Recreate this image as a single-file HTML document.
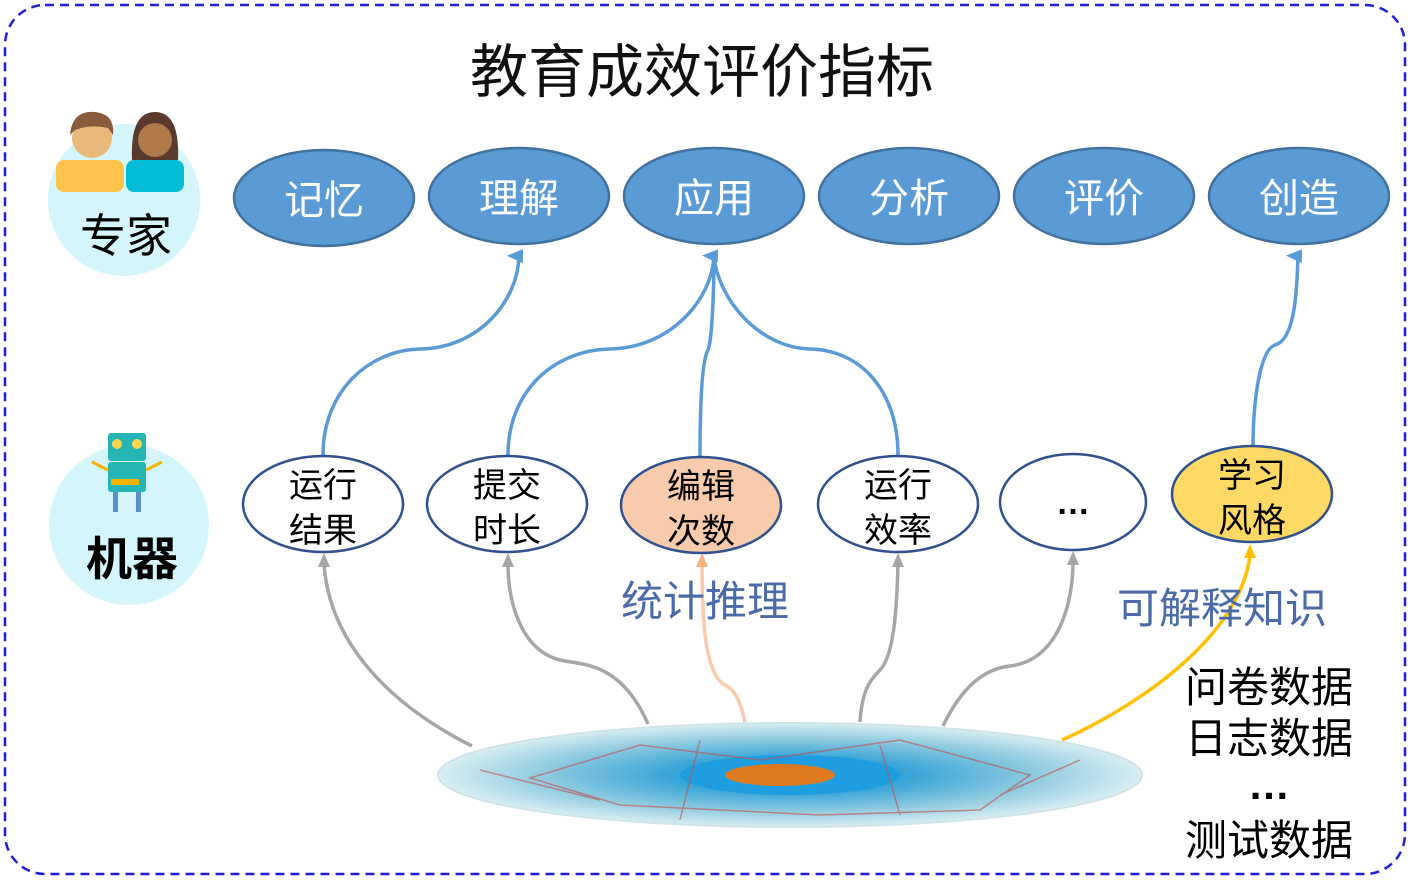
<!DOCTYPE html>
<html><head><meta charset="utf-8">
<style>
html,body{margin:0;padding:0;background:#fff;}
svg{display:block;}
text{font-family:"Liberation Sans","Noto Sans CJK SC",sans-serif;}
</style></head>
<body>
<svg width="1414" height="880" viewBox="0 0 1414 880" xmlns="http://www.w3.org/2000/svg">
<defs>
<marker id="ab" markerWidth="16" markerHeight="16" refX="8" refY="12" orient="auto-start-reverse" markerUnits="userSpaceOnUse" viewBox="0 0 16 16"><path d="M1,16 L8,0 L15,16 Z" fill="#5b9bd5"/></marker>
<marker id="ag" markerWidth="14" markerHeight="14" refX="7" refY="11" viewBox="0 0 14 14" markerUnits="userSpaceOnUse"><path d="M1,14 L7,0 L13,14 Z" fill="#a6a6a6"/></marker>
<marker id="ao" markerWidth="14" markerHeight="14" refX="7" refY="11" viewBox="0 0 14 14" markerUnits="userSpaceOnUse"><path d="M1,14 L7,0 L13,14 Z" fill="#f4b183"/></marker>
<marker id="ay" markerWidth="14" markerHeight="14" refX="7" refY="11" viewBox="0 0 14 14" markerUnits="userSpaceOnUse"><path d="M1,14 L7,0 L13,14 Z" fill="#ffc000"/></marker>
<radialGradient id="dg" cx="50%" cy="50%" r="50%">
<stop offset="0" stop-color="#1b8fd6"/><stop offset="0.35" stop-color="#3aa6d8"/><stop offset="0.7" stop-color="#8fcbe0"/><stop offset="1" stop-color="#d8eef2"/>
</radialGradient>
</defs>
<rect x="5" y="5" width="1400" height="869" rx="40" fill="none" stroke="#1f1fd6" stroke-width="2.5" stroke-dasharray="9,6"/>
<text x="702" y="92" font-size="58" text-anchor="middle" fill="#111">教育成效评价指标</text>

<!-- expert -->
<circle cx="124" cy="200" r="76" fill="#d5f5fc"/>
<rect x="56" y="160" width="68" height="32" rx="8" fill="#ffc34d"/>
<circle cx="92" cy="138" r="20" fill="#e9b97a"/>
<path d="M70,135 Q72,110 95,112 Q115,114 113,135 L108,128 Q90,124 75,130 Z" fill="#8a5a3c"/>
<rect x="126" y="160" width="58" height="32" rx="8" fill="#00bcd4"/>
<path d="M132,160 Q130,112 155,112 Q180,112 178,160 Z" fill="#5a3a2c"/>
<circle cx="155" cy="140" r="17" fill="#b0794a"/>
<text x="126" y="252" font-size="46" text-anchor="middle" fill="#000">专家</text>

<!-- robot -->
<circle cx="129" cy="525" r="80" fill="#d5f5fc"/>
<rect x="108" y="433" width="38" height="28" rx="3" fill="#26b5b5"/>
<circle cx="117" cy="444" r="5" fill="#ffd54f"/><circle cx="137" cy="444" r="5" fill="#ffd54f"/>
<rect x="108" y="462" width="38" height="30" rx="3" fill="#26b5b5"/>
<rect x="111" y="479" width="28" height="6" fill="#f5b400"/>
<path d="M108,470 L92,462 M146,470 L162,462" stroke="#f5b400" stroke-width="3"/>
<rect x="113" y="492" width="5" height="20" fill="#5b8fc7"/><rect x="136" y="492" width="5" height="20" fill="#5b8fc7"/>
<text x="132" y="575" font-size="46" font-weight="bold" text-anchor="middle" fill="#000">机器</text>

<!-- top ellipses -->
<g fill="#5b9bd5" stroke="#41719c" stroke-width="2.5">
<ellipse cx="324" cy="198" rx="90" ry="48"/>
<ellipse cx="519" cy="196" rx="90" ry="48"/>
<ellipse cx="714" cy="196" rx="90" ry="48"/>
<ellipse cx="909" cy="196" rx="90" ry="48"/>
<ellipse cx="1104" cy="196" rx="90" ry="48"/>
<ellipse cx="1299" cy="196" rx="90" ry="48"/>
</g>
<g font-size="40" fill="#fff" text-anchor="middle">
<text x="324" y="214">记忆</text><text x="519" y="212">理解</text><text x="714" y="212">应用</text>
<text x="909" y="212">分析</text><text x="1104" y="212">评价</text><text x="1299" y="212">创造</text>
</g>

<!-- blue arrows -->
<g fill="none" stroke="#5b9bd5" stroke-width="3.5">
<path d="M323,455 C323,390 370,350 420,349 C480,348 518,300 519,256" marker-end="url(#ab)"/>
<path d="M508,455 C508,390 555,350 610,349 C670,348 712,300 714,256" marker-end="url(#ab)"/>
<path d="M700,457 C700,400 702,360 708,350 C712,340 714,290 714,256"/>
<path d="M898,455 C898,390 860,350 810,349 C760,348 718,300 714,256"/>
<path d="M1253,448 C1253,400 1260,350 1275,345 C1295,340 1297,290 1298,256" marker-end="url(#ab)"/>
</g>

<!-- gray/orange/yellow arrows -->
<g fill="none" stroke-width="3.5">
<path d="M472,746 C400,710 330,650 324,564" stroke="#a6a6a6" marker-end="url(#ag)"/>
<path d="M648,724 C620,660 580,665 560,660 C520,650 508,600 508,564" stroke="#a6a6a6" marker-end="url(#ag)"/>
<path d="M745,722 C740,700 735,690 725,685 C705,675 702,620 702,564" stroke="#f8cbad" marker-end="url(#ao)"/>
<path d="M860,722 C862,690 870,680 880,670 C895,655 897,600 898,564" stroke="#a6a6a6" marker-end="url(#ag)"/>
<path d="M943,726 C965,680 990,668 1010,666 C1060,660 1073,600 1073,562" stroke="#a6a6a6" marker-end="url(#ag)"/>
<path d="M1062,740 C1130,710 1240,640 1250,555" stroke="#ffc000" marker-end="url(#ay)"/>
</g>

<!-- middle ellipses -->
<g stroke="#2f528f" stroke-width="2.5">
<ellipse cx="323" cy="504" rx="80" ry="48" fill="#fff"/>
<ellipse cx="507" cy="504" rx="80" ry="48" fill="#fff"/>
<ellipse cx="701" cy="505" rx="80" ry="48" fill="#f8cbad"/>
<ellipse cx="898" cy="504" rx="80" ry="48" fill="#fff"/>
<ellipse cx="1073" cy="502" rx="73" ry="48" fill="#fff"/>
<ellipse cx="1252" cy="494" rx="80" ry="48" fill="#ffd966"/>
</g>
<g font-size="34" fill="#000" text-anchor="middle">
<text x="323" y="497">运行</text><text x="323" y="542">结果</text>
<text x="507" y="497">提交</text><text x="507" y="542">时长</text>
<text x="701" y="498">编辑</text><text x="701" y="543">次数</text>
<text x="898" y="497">运行</text><text x="898" y="542">效率</text>
<text x="1073" y="514" font-weight="bold">…</text>
<text x="1252" y="487">学习</text><text x="1252" y="532">风格</text>
</g>

<text x="705" y="616" font-size="42" text-anchor="middle" fill="#4a6aa8">统计推理</text>
<text x="1222" y="623" font-size="42" text-anchor="middle" fill="#4a6aa8">可解释知识</text>

<!-- disk -->
<ellipse cx="790" cy="775" rx="352" ry="52" fill="url(#dg)" stroke="#cfe4ea" stroke-width="2"/>
<ellipse cx="790" cy="775" rx="270" ry="38" fill="none" stroke="#9fd0e0" stroke-width="2" opacity="0.6"/>
<ellipse cx="790" cy="775" rx="110" ry="20" fill="#1e9ee0"/>
<ellipse cx="780" cy="775" rx="55" ry="11" fill="#e07a20"/>
<g stroke="#c0504d" stroke-width="1.5" opacity="0.6">
<path d="M530,778 L640,745 L760,760 L900,740 L1030,775 L980,810 L820,815 L620,805 Z" fill="none"/>
<path d="M480,770 L600,800 M1080,760 L1000,795 M700,740 L680,820 M880,745 L900,815"/>
</g>

<g font-size="42" fill="#000" text-anchor="middle">
<text x="1269" y="702">问卷数据</text>
<text x="1269" y="753">日志数据</text>
<text x="1269" y="799" font-weight="bold">…</text>
<text x="1269" y="855">测试数据</text>
</g>
</svg>
</body></html>
